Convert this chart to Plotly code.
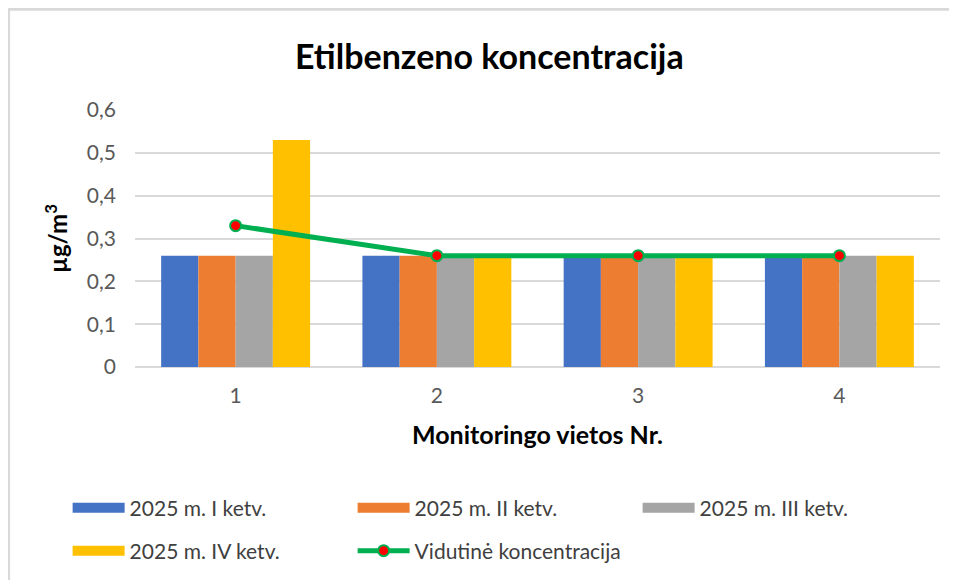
import plotly.graph_objects as go

# data
sites = ["1", "2", "3", "4"]
q1 = [0.26, 0.26, 0.26, 0.26]
q2 = [0.26, 0.26, 0.26, 0.26]
q3 = [0.26, 0.26, 0.26, 0.26]
q4 = [0.53, 0.26, 0.26, 0.26]
average = [0.33, 0.26, 0.26, 0.26]

bar_names = ["2025 m. I ketv.", "2025 m. II ketv.", "2025 m. III ketv.", "2025 m. IV ketv."]
bar_values = [q1, q2, q3, q4]
bar_colors = ["#4472C4", "#ED7D31", "#A5A5A5", "#FFC000"]
avg_name = "Vidutinė koncentracija"

FONT = "Lato, 'Open Sans', sans-serif"

fig = go.Figure()

for name, vals, col in zip(bar_names, bar_values, bar_colors):
    fig.add_trace(go.Bar(x=sites, y=vals, name=name, marker=dict(color=col, line=dict(width=0)),
                         showlegend=False))

fig.add_trace(go.Scatter(
    x=sites, y=average, mode="lines+markers", name=avg_name, showlegend=False,
    line=dict(color="#00B050", width=5),
    marker=dict(color="#FF0000", size=11, line=dict(color="#00B050", width=2)),
))

# legend entries: wide colour strips like the original, two rows -> two legends
for i, (name, col) in enumerate(zip(bar_names, bar_colors)):
    fig.add_trace(go.Scatter(x=[None], y=[None], mode="lines", name=name,
                             line=dict(color=col, width=12),
                             legend="legend" if i < 3 else "legend2"))
fig.add_trace(go.Scatter(x=[None], y=[None], mode="lines+markers", name=avg_name,
                         line=dict(color="#00B050", width=5),
                         marker=dict(color="#FF0000", size=11, line=dict(color="#00B050", width=2)),
                         legend="legend2"))

leg_common = dict(orientation="h", x=-0.0837, xanchor="left", yanchor="middle",
                  entrywidth=218, entrywidthmode="pixels", itemwidth=52,
                  traceorder="normal", font=dict(size=21, color="#404040"),
                  itemclick=False, bgcolor="rgba(0,0,0,0)")

fig.update_layout(
    width=957, height=580,
    # page body adds 8px offset, margins compensate
    margin=dict(l=127, r=25, t=102, b=221),
    paper_bgcolor="white", plot_bgcolor="white",
    barmode="group", bargap=0.26, bargroupgap=0,
    separators=", ",
    font=dict(family=FONT, size=21, color="#595959"),
    title=dict(text="<b>Etilbenzeno koncentracija</b>", x=0.503, xanchor="center",
               y=0.915, yref="container", yanchor="middle",
               font=dict(family=FONT, size=34, color="#000000")),
    xaxis=dict(title=dict(text="<b>Monitoringo vietos Nr.</b>", standoff=20,
                          font=dict(size=25, color="#000000")),
               showgrid=False, showline=False, ticks="", ticklabelstandoff=14),
    yaxis=dict(title=dict(text="<b>µg/m<sup>3</sup></b>", standoff=12,
                          font=dict(size=24, color="#000000")),
               range=[0, 0.6], dtick=0.1, showgrid=True, gridcolor="#D9D9D9", gridwidth=2,
               zeroline=True, zerolinecolor="#D9D9D9", zerolinewidth=2,
               showline=False, ticks="", ticklabelstandoff=18),
    legend=dict(y=-0.549, **leg_common),
    legend2=dict(y=-0.716, **leg_common),
    shapes=[dict(type="rect", xref="paper", yref="paper",
                 x0=-0.157, x1=1.05, y0=-1.0, y1=1.392,
                 line=dict(color="#D9D9D9", width=3), layer="below")],
)

fig.write_html("out.html")
